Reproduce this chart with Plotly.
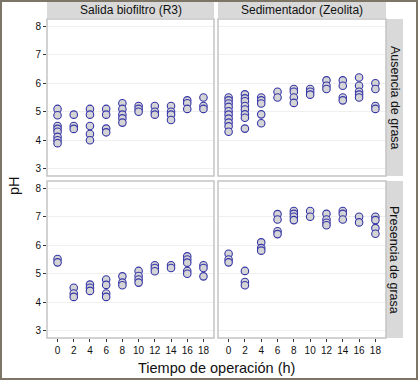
import plotly.graph_objects as go

W, H = 418, 380

hours = [0, 2, 4, 6, 8, 10, 12, 14, 16, 18]
col_labels = ["Salida biofiltro (R3)", "Sedimentador (Zeolita)"]
row_labels = ["Ausencia de grasa", "Presencia de grasa"]
y_ticks = [3, 4, 5, 6, 7, 8]

# pH readings per time (h) for each panel
ph_biofiltro_ausencia = {
    0: [5.1, 4.88, 4.5, 4.4, 4.3, 4.12, 4.0, 3.9],
    2: [4.9, 4.5, 4.4],
    4: [5.1, 4.9, 4.5, 4.22, 4.0],
    6: [5.1, 4.9, 4.41, 4.28],
    8: [5.3, 5.1, 4.9, 4.77, 4.62],
    10: [5.2, 5.1, 5.0],
    12: [5.2, 5.0, 4.9],
    14: [5.2, 5.0, 4.9, 4.71],
    16: [5.4, 5.3, 5.1],
    18: [5.5, 5.2, 5.1],
}
ph_sedimentador_ausencia = {
    0: [5.5, 5.4, 5.29, 5.17, 5.02, 4.9, 4.76, 4.62, 4.49, 4.3],
    2: [5.61, 5.47, 5.37, 5.2, 5.08, 4.91, 4.79, 4.41],
    4: [5.5, 5.4, 5.29, 4.91, 4.6],
    6: [5.7, 5.5],
    8: [5.8, 5.7, 5.5, 5.31],
    10: [5.8, 5.7, 5.6],
    12: [6.1, 5.91, 5.8],
    14: [6.1, 5.91, 5.5, 5.4],
    16: [6.2, 5.91, 5.7, 5.6, 5.5],
    18: [6.0, 5.8, 5.2, 5.1],
}
ph_biofiltro_presencia = {
    0: [5.52, 5.4],
    2: [4.51, 4.31, 4.19],
    4: [4.62, 4.51, 4.4],
    6: [4.8, 4.61, 4.31, 4.19],
    8: [4.91, 4.69, 4.6],
    10: [5.1, 4.92, 4.8, 4.69],
    12: [5.3, 5.2, 5.09],
    14: [5.3, 5.2],
    16: [5.61, 5.5, 5.39, 5.1, 5.0],
    18: [5.3, 5.2, 4.91],
}
ph_sedimentador_presencia = {
    0: [5.7, 5.5, 5.4],
    2: [5.1, 4.71, 4.6],
    4: [6.1, 5.9, 5.81],
    6: [7.09, 6.9, 6.49, 6.39],
    8: [7.2, 7.1, 7.0, 6.88],
    10: [7.2, 7.0],
    12: [7.1, 6.9, 6.79, 6.7],
    14: [7.2, 7.1, 6.9],
    16: [7.0, 6.8],
    18: [7.0, 6.88, 6.6, 6.4],
}

panels = [
    (0, 0, ph_biofiltro_ausencia),
    (0, 1, ph_sedimentador_ausencia),
    (1, 0, ph_biofiltro_presencia),
    (1, 1, ph_sedimentador_presencia),
]

def fx(px):
    return px / W

def fy(py):
    return 1 - py / H

col_px = [(47, 214), (218, 386)]
row_px = [(19, 176), (181, 338)]

fig = go.Figure()
layout = {}
shapes = []
annotations = []

FONT = "Liberation Sans, Arial, sans-serif"
tick_font = dict(family=FONT, size=10, color="#111111")

for i, (r, c, data) in enumerate(panels):
    n = i + 1
    xs, ys = [], []
    for t in hours:
        for v in data[t]:
            xs.append(t)
            ys.append(v)
    xa = "x" if n == 1 else f"x{n}"
    ya = "y" if n == 1 else f"y{n}"
    fig.add_trace(go.Scatter(
        x=xs, y=ys, mode="markers", xaxis=xa, yaxis=ya, showlegend=False,
        marker=dict(size=7.5, color="#d4d4d4", line=dict(color="#3535a8", width=1.1)),
    ))
    xk = "xaxis" if n == 1 else f"xaxis{n}"
    yk = "yaxis" if n == 1 else f"yaxis{n}"
    x0, x1 = col_px[c]
    y0, y1 = row_px[r]
    layout[xk] = dict(
        domain=[fx(x0), fx(x1)], range=[-1.3, 19.3], anchor=ya,
        tickvals=hours, showgrid=False, zeroline=False,
        ticks="outside" if r == 1 else "", ticklen=3, tickwidth=1, tickcolor="#333333",
        showticklabels=(r == 1), tickfont=tick_font,
    )
    layout[yk] = dict(
        domain=[fy(y1), fy(y0)], range=[2.75, 8.25], anchor=xa,
        tickvals=y_ticks, showgrid=True, gridcolor="#efefef", gridwidth=1, zeroline=False,
        ticks="outside" if c == 0 else "", ticklen=3, tickwidth=1, tickcolor="#333333",
        showticklabels=(c == 0), tickfont=tick_font,
    )
    # panel border
    shapes.append(dict(type="rect", xref="paper", yref="paper",
                       x0=fx(x0), x1=fx(x1), y0=fy(y1), y1=fy(y0),
                       line=dict(color="#c4c4c4", width=1.5), layer="above"))

# column strips
for c, lab in enumerate(col_labels):
    x0, x1 = col_px[c]
    shapes.append(dict(type="rect", xref="paper", yref="paper",
                       x0=fx(x0), x1=fx(x1), y0=fy(18), y1=fy(2),
                       fillcolor="#d9d9d9", line=dict(width=0), layer="below"))
    annotations.append(dict(text=lab, xref="paper", yref="paper",
                            x=fx((x0 + x1) / 2), y=fy(10), showarrow=False,
                            font=dict(family=FONT, size=12, color="#111111"),
                            xanchor="center", yanchor="middle"))

# row strips
for r, lab in enumerate(row_labels):
    y0, y1 = row_px[r]
    shapes.append(dict(type="rect", xref="paper", yref="paper",
                       x0=fx(386), x1=fx(403), y0=fy(y1), y1=fy(y0),
                       fillcolor="#d9d9d9", line=dict(width=0), layer="below"))
    annotations.append(dict(text=lab, xref="paper", yref="paper",
                            x=fx(394.5), y=fy((y0 + y1) / 2), showarrow=False, textangle=90,
                            font=dict(family=FONT, size=12.5, color="#111111"),
                            xanchor="center", yanchor="middle"))

# axis titles
annotations.append(dict(text="Tiempo de operación (h)", xref="paper", yref="paper",
                        x=fx(216), y=fy(368), showarrow=False,
                        font=dict(family=FONT, size=14.5, color="#111111"),
                        xanchor="center", yanchor="middle"))
annotations.append(dict(text="pH", xref="paper", yref="paper",
                        x=fx(14), y=fy(186), showarrow=False, textangle=-90,
                        font=dict(family=FONT, size=14.5, color="#111111"),
                        xanchor="center", yanchor="middle"))

# outer frame
shapes.append(dict(type="rect", xref="paper", yref="paper",
                   x0=fx(1), x1=fx(417), y0=fy(379), y1=fy(1),
                   line=dict(color="#7d7566", width=2), layer="above"))

fig.update_layout(
    width=W, height=H, margin=dict(l=0, r=0, t=0, b=0),
    paper_bgcolor="white", plot_bgcolor="white",
    shapes=shapes, annotations=annotations, **layout,
)

fig.write_html(
    "out.html",
    config={"displayModeBar": False},
    post_script="document.body.style.margin='0';document.body.style.overflow='hidden';",
)
